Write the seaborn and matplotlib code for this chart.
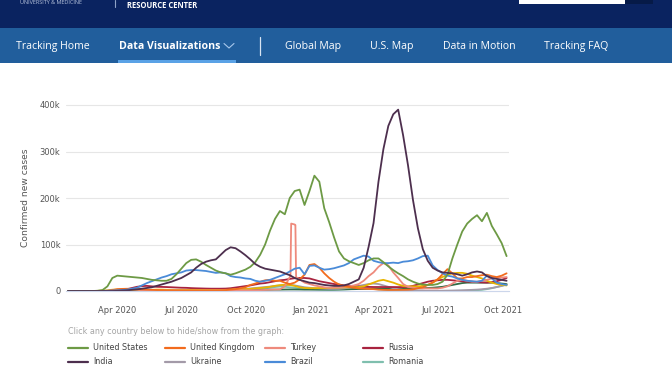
import numpy as np
import pandas as pd
import matplotlib
matplotlib.use('Agg')
import matplotlib.pyplot as plt
import matplotlib.dates as mdates
from matplotlib.patches import Rectangle
from matplotlib.lines import Line2D
import seaborn as sns

W, H = 672, 372

# weekly points, values in thousands of new cases
dates = pd.date_range('2020-01-22', periods=90, freq='7D')

united_states = [0, 0, 0, 0, 0, 0, 0.5, 2, 10, 28,
                 33, 32, 31, 30, 29, 28, 26, 24, 23, 22,
                 22, 26, 36, 48, 60, 67, 68, 63, 56, 50,
                 44, 40, 38, 35, 38, 42, 46, 52, 62, 78,
                 100, 130, 155, 172, 165, 200, 215, 218, 185, 215,
                 248, 235, 178, 148, 115, 85, 70, 64, 60, 56,
                 60, 66, 70, 70, 62, 53, 45, 38, 32, 25,
                 20, 16, 14, 13, 13, 15, 20, 35, 70, 100,
                 128, 145, 155, 163, 150, 168, 140, 122, 103, 75]
india = [0, 0, 0, 0, 0, 0, 0, 0, 0, 0,
         0.3, 1, 1.5, 2.5, 3.5, 5, 6.5, 8, 11, 14,
         17, 20, 24, 28, 34, 40, 50, 58, 63, 66,
         68, 78, 88, 94, 92, 85, 77, 68, 58, 52,
         48, 46, 44, 42, 38, 34, 28, 24, 21, 18,
         17, 15, 13, 12, 11, 11, 12, 15, 20, 25,
         50, 95, 146, 235, 305, 355, 380, 390, 335, 270,
         196, 135, 90, 65, 50, 44, 40, 39, 38, 36,
         33, 36, 40, 42, 40, 32, 28, 26, 24, 22]
brazil = [0, 0, 0, 0, 0, 0, 0, 0.2, 0.5, 1,
          1.5, 2, 3, 5, 7, 12, 17, 21, 25, 29,
          32, 36, 38, 40, 44, 45, 45, 44, 43, 41,
          39, 40, 38, 32, 30, 29, 27, 26, 22, 20,
          22, 24, 28, 32, 36, 42, 48, 50, 36, 54,
          55, 50, 46, 47, 49, 52, 55, 60, 68, 72,
          76, 74, 65, 62, 60, 60, 61, 60, 63, 64,
          66, 70, 75, 76, 55, 45, 38, 33, 31, 27,
          24, 22, 21, 20, 22, 33, 27, 18, 15, 13]
united_kingdom = [0, 0, 0, 0, 0, 0, 0, 0, 0.5, 2,
                  4, 4.5, 4.8, 4.5, 4, 3.5, 3, 2.5, 2, 1.5,
                  1.2, 1, 0.8, 0.7, 0.6, 0.7, 0.8, 0.8, 0.9, 1,
                  1.1, 1.3, 1.8, 3, 4, 6, 8, 13, 16, 20,
                  23, 24, 22, 22, 18, 15, 18, 25, 35, 56,
                  58, 50, 38, 28, 20, 14, 11, 9, 7, 5.5,
                  5, 4.5, 4, 3, 2.5, 2.2, 2.2, 2.3, 2.5, 2.8,
                  3.5, 6, 8, 13, 18, 25, 36, 47, 38, 27,
                  27, 30, 30, 32, 34, 35, 32, 30, 33, 38]
turkey = [0, 0, 0, 0, 0, 0, 0, 0, 0.2, 1,
          2.5, 4, 4.2, 3.5, 2.5, 2, 1.5, 1, 0.9, 0.9,
          1, 1.3, 1.4, 1.2, 1, 1, 1, 1.1, 1.2, 1.2,
          1.3, 1.4, 1.6, 1.7, 1.7, 1.6, 1.5, 1.6, 1.8, 2,
          2.3, 2.8, 3.2, 3.5, 10, 30, 143, 25, 18, 15,
          12, 10, 8, 7, 7.5, 8, 9, 10, 12, 15,
          22, 32, 40, 52, 60, 55, 40, 28, 15, 9,
          7, 6, 5.5, 5.5, 5.5, 5.5, 7, 10, 16, 22,
          24, 22, 20, 20, 22, 24, 27, 28, 29, 30]
turkey_spike_dates = ['2020-12-03', '2020-12-04', '2020-12-10', '2020-12-11']
turkey_spike = [32, 145, 142, 30]
russia = [0, 0, 0, 0, 0, 0, 0, 0, 0, 0.3,
          0.8, 2, 4, 6.5, 9, 10.5, 11, 10, 9, 8.8,
          8.5, 8, 7.5, 7, 6.8, 6.2, 5.8, 5.5, 5.2, 5,
          5, 5, 5.2, 6, 7.5, 9, 10.5, 12, 14, 16,
          17, 19, 21, 23, 24, 26, 27.5, 28, 28, 27,
          24, 21, 19, 17, 15, 14, 12, 11, 10, 9.5,
          9, 8.8, 8.6, 8.6, 8.5, 8.5, 8.5, 8.4, 8.5, 9,
          11, 14, 17, 20, 22, 23, 24, 24, 23, 22,
          21, 20, 20, 19, 18.5, 18, 19, 21, 24, 28]
ukraine = [0, 0, 0, 0, 0, 0, 0, 0, 0, 0,
           0.1, 0.3, 0.4, 0.5, 0.5, 0.5, 0.5, 0.5, 0.5, 0.6,
           0.8, 0.9, 1, 0.9, 0.9, 1, 1.2, 1.5, 1.8, 2,
           2.3, 2.6, 2.8, 3, 3.3, 3.8, 4.5, 5.5, 6.5, 7.5,
           8.5, 9.5, 11, 12, 13, 13.5, 12, 10, 8, 7,
           6, 5.5, 5, 4.5, 4.5, 4.5, 5.5, 7, 9, 11,
           13, 15, 16, 15, 12, 9, 6, 4, 2.5, 1.5,
           1, 0.8, 0.6, 0.5, 0.5, 0.5, 0.6, 0.8, 1, 1.3,
           1.6, 2, 2.5, 3, 3.8, 5, 6.5, 8.5, 11, 14]
romania = [0, 0, 0, 0, 0, 0, 0, 0, 0, 0,
           0.2, 0.3, 0.4, 0.3, 0.3, 0.25, 0.2, 0.2, 0.2, 0.2,
           0.3, 0.4, 0.5, 0.6, 0.8, 1, 1.1, 1.2, 1.2, 1.2,
           1.2, 1.3, 1.4, 1.5, 1.6, 1.9, 2.3, 3, 3.8, 4.5,
           5.5, 7, 8.5, 9.5, 9, 8, 7, 5.5, 4.5, 4,
           3.5, 3, 2.7, 2.5, 2.7, 3, 3.3, 3.8, 4.5, 5,
           5.5, 5, 4.5, 3.5, 2.8, 2, 1.4, 1, 0.7, 0.4,
           0.25, 0.15, 0.1, 0.1, 0.1, 0.1, 0.1, 0.15, 0.2, 0.3,
           0.5, 0.8, 1.2, 1.8, 2.5, 4, 6, 8.5, 11, 14]
iran = [0, 0, 0, 0, 0, 0, 0.3, 1, 1.3, 2.8,
        3, 2.5, 1.8, 1.2, 1.1, 1.4, 2, 2.5, 3, 3,
        2.6, 2.5, 2.5, 2.5, 2.4, 2.5, 2.4, 2.3, 2.2, 2.2,
        2.3, 2.2, 2.5, 3, 3.5, 3.8, 4, 4.5, 5.5, 6.5,
        7.5, 9, 11, 12.5, 13.5, 13, 11, 8, 6.5, 6,
        6, 6.3, 6.5, 6.8, 7, 7.5, 7.8, 8, 8, 8.5,
        10, 14, 18, 22, 24, 21, 18, 14, 11, 10,
        10, 10, 11, 13, 18, 25, 30, 35, 38, 39,
        39, 37, 33, 30, 27, 22, 18, 15, 13, 12]
japan = [0, 0, 0, 0, 0, 0, 0, 0, 0, 0,
         0.2, 0.3, 0.3, 0.3, 0.3, 0.4, 0.5, 0.6, 0.7, 0.8,
         1, 1.2, 1.5, 1.8, 2, 2.3, 2.5, 2.8, 3, 3,
         3, 3, 2.8, 2.6, 2.5, 2.5, 2.5, 2.4, 2.4, 2.5,
         2.6, 2.8, 3, 3, 3.2, 3.3, 3.3, 3.2, 3, 3,
         3, 3, 3, 3, 3, 3.2, 3.5, 3.8, 4, 4.2,
         4.5, 4.8, 5, 5, 5, 5, 5.2, 5.5, 5.5, 5.5,
         5.5, 5.8, 6, 6.5, 7, 8, 9, 11, 13, 15,
         17, 18, 18, 18, 18, 18, 18, 17, 16, 15]

colors = {
    'United States': '#6d9a45',
    'United Kingdom': '#f26b1d',
    'Turkey': '#ee8a7c',
    'Russia': '#a8233f',
    'India': '#4d2f4e',
    'Ukraine': '#a39aa8',
    'Brazil': '#4a8bd8',
    'Romania': '#7fbfae',
    'Iran': '#e8b400',
    'Japan': '#2f6b45',
}
draw_order = ['Romania', 'Japan', 'Ukraine', 'Russia', 'Iran', 'Turkey',
              'United Kingdom', 'Brazil', 'United States', 'India']
legend_rows = [['United States', 'United Kingdom', 'Turkey', 'Russia'],
               ['India', 'Ukraine', 'Brazil', 'Romania']]

series = {'United States': united_states, 'India': india, 'Brazil': brazil,
          'United Kingdom': united_kingdom, 'Turkey': turkey, 'Russia': russia,
          'Ukraine': ukraine, 'Romania': romania, 'Iran': iran, 'Japan': japan}
frames = []
for name, vals in series.items():
    frames.append(pd.DataFrame({'date': dates, 'cases': np.array(vals) * 1000, 'country': name}))
frames.append(pd.DataFrame({'date': pd.to_datetime(turkey_spike_dates),
                            'cases': np.array(turkey_spike) * 1000, 'country': 'Turkey'}))
df = pd.concat(frames, ignore_index=True)

sns.set_style('white')
plt.rcParams['font.family'] = ['DejaVu Sans']

fig = plt.figure(figsize=(W / 100, H / 100), dpi=100)


def fx(x):
    return x / W


def fy(y):
    return 1 - y / H


def box(x0, y0, x1, y1, color):
    fig.add_artist(Rectangle((fx(x0), fy(y1)), (x1 - x0) / W, (y1 - y0) / H,
                             transform=fig.transFigure, color=color, lw=0, zorder=0))


# page header
box(0, 0, 672, 28, '#0a2360')
box(0, 28, 672, 63, '#215e9c')
box(118, 60, 236, 63, '#5aa2e6')
box(519, 0, 625, 4, '#ffffff')
box(625, 0, 653, 4, '#061a47')
fig.add_artist(Line2D([fx(115), fx(115)], [fy(0), fy(7)], transform=fig.transFigure,
                      color='#8fa3c8', lw=0.8))
fig.text(fx(127), fy(0.5), 'RESOURCE CENTER', color='white', fontsize=5.5,
         fontweight='bold', family='Open Sans', va='top')
fig.text(fx(20), fy(0.5), 'UNIVERSITY & MEDICINE', color='#b8c4dc', fontsize=4,
         family='Open Sans', va='top')

nav_items = [(16, 'Tracking Home', 'normal'), (119, 'Data Visualizations', 'bold'),
             (285, 'Global Map', 'normal'), (370, 'U.S. Map', 'normal'),
             (443, 'Data in Motion', 'normal'), (544, 'Tracking FAQ', 'normal')]
for x, label, weight in nav_items:
    fig.text(fx(x), fy(46.5), label, color='white', fontsize=7.6, fontweight=weight,
             family='Open Sans', va='center')
fig.add_artist(Line2D([fx(224), fx(229), fx(234)], [fy(43.5), fy(48), fy(43.5)],
                      transform=fig.transFigure, color='#a8c8ec', lw=0.8))
fig.add_artist(Line2D([fx(260), fx(260)], [fy(37), fy(55)], transform=fig.transFigure,
                      color='#d8e4f2', lw=0.9))

# chart
left, right, top, bottom = 66, 509, 102, 293
ax = fig.add_axes([fx(left), fy(bottom), (right - left) / W, (bottom - top) / H])
sns.lineplot(data=df, x='date', y='cases', hue='country', hue_order=draw_order,
             palette=colors, lw=1.3, legend=False, errorbar=None, ax=ax)

px_per_day = 0.704
start = pd.Timestamp('2020-01-22')
ax.set_xlim(start - pd.Timedelta(days=(68 - left) / px_per_day),
            start + pd.Timedelta(days=(right - 68) / px_per_day))
ax.set_ylim(-(293 - 291) / 0.465 * 1000, (291 - top) / 0.465 * 1000)

ax.set_yticks([0, 100000, 200000, 300000, 400000])
ax.set_yticklabels(['0', '100k', '200k', '300k', '400k'])
ax.xaxis.set_major_locator(mdates.MonthLocator(bymonth=[1, 4, 7, 10]))
ax.xaxis.set_major_formatter(mdates.DateFormatter('%b %Y'))
ax.grid(axis='y', color='#e6e6e6', lw=0.8)
ax.set_axisbelow(True)
for s in ['top', 'right', 'left']:
    ax.spines[s].set_visible(False)
ax.spines['bottom'].set_color('#ccd6eb')
ax.spines['bottom'].set_linewidth(0.8)
ax.spines['bottom'].set_position(('data', 0))
ax.tick_params(axis='x', length=7, width=0.8, color='#ccd6eb', pad=4,
               labelsize=6, labelcolor='#555555')
ax.tick_params(axis='y', length=0, pad=4, labelsize=6, labelcolor='#555555')
ax.set_xlabel('')
ax.set_ylabel('Confirmed new cases', fontsize=6.6, color='#555555')
ax.yaxis.set_label_coords((30 - left) / (right - left), 0.5)

# legend
fig.text(fx(68), fy(331), 'Click any country below to hide/show from the graph:',
         color='#a5a5a5', fontsize=5.8, va='center')
col_x = [68, 165, 265, 363]
for row, y in zip(legend_rows, [348, 362]):
    for name, x in zip(row, col_x):
        fig.add_artist(Line2D([fx(x), fx(x + 20)], [fy(y), fy(y)], transform=fig.transFigure,
                              color=colors[name], lw=1.6))
        fig.text(fx(x + 25), fy(y), name, color='#444444', fontsize=5.8, va='center')

fig.savefig('out.png', dpi=100)
